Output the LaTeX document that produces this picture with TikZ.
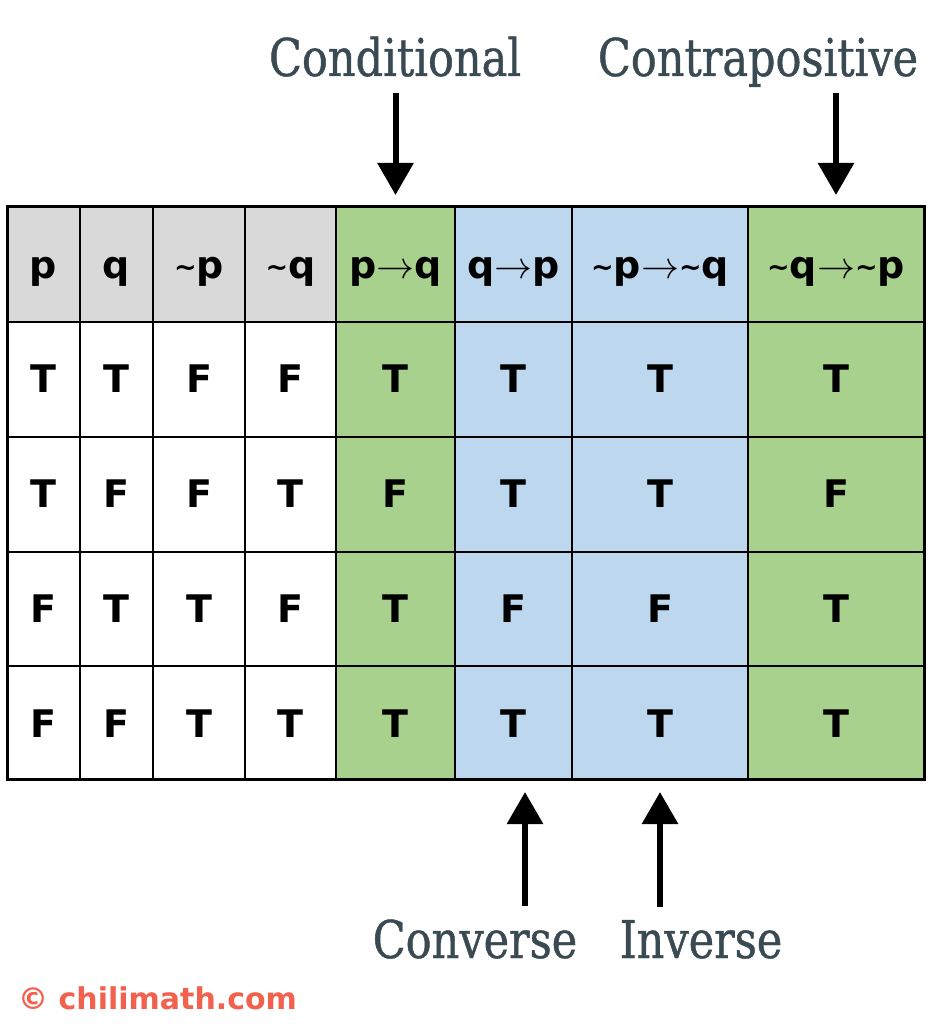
\RequirePackage{fix-cm}
\documentclass[tikz,border=0pt]{standalone}
\usepackage{fontspec}
\setmainfont{DejaVu Sans}
\newfontfamily\lblfont[FakeStretch=0.92,FakeBold=0.8]{DejaVu Serif Condensed}
\usetikzlibrary{arrows.meta}
\definecolor{hgray}{HTML}{D9D9D9}
\definecolor{cgreen}{HTML}{A9D18E}
\definecolor{cblue}{HTML}{BDD7EE}
\definecolor{lbl}{HTML}{3A4A52}
\definecolor{chili}{HTML}{F2604E}
\newcommand{\ar}{$\rightarrow$}
\newcommand{\nt}{\raisebox{2pt}{\fontsize{27}{27}\selectfont\textasciitilde}}
\begin{document}
\begin{tikzpicture}[x=1pt,y=-1pt,
    cell/.style={inner sep=0pt,font=\bfseries\fontsize{38}{38}\selectfont},
    lab/.style={inner sep=0pt,text=lbl,font=\lblfont\fontsize{52}{52}\selectfont},
    arr/.style={line width=6pt,-{Triangle[width=35pt,length=32pt]}}]
    \useasboundingbox[fill=white] (0,0) rectangle (927,1024);
    % colour bands
    \fill[hgray] (7,207) rectangle (336,322);
    \fill[cgreen] (336,207) rectangle (455,779);
    \fill[cgreen] (748,207) rectangle (924,779);
    \fill[cblue] (455,207) rectangle (748,779);
    % grid
    \foreach \x in {80,153,245,336,455,572,748} \draw[line width=2pt] (\x,207) -- (\x,779);
    \foreach \y in {322,437,552,666} \draw[line width=2pt] (7,\y) -- (924,\y);
    \draw[line width=3pt] (7,207) rectangle (924,779);
    \coordinate (top) at (0,207);
    \coordinate (bot) at (0,779);
    % header and values
    \foreach \t/\x [count=\c] in {p/43.5,q/116.5,\nt p/199,\nt q/290.5,p\ar q/395.5,q\ar p/513.5,\nt p\ar\nt q/660,\nt q\ar\nt p/836}
        \node[cell,anchor=base] (h\c) at (\x,278) {\t};
    \foreach \vals [count=\r] in {{T,T,F,F,T,T,T,T},{T,F,F,T,F,T,T,F},{F,T,T,F,T,F,F,T},{F,F,T,T,T,T,T,T}}
        \foreach \v [count=\c] in \vals
            \path (h\c.base) ++(0,114.8*\r) node[cell,anchor=base] (c\r\c) {\v};
    % labels
    \node[lab,anchor=base] (cond) at (395,76) {Conditional};
    \node[lab,anchor=base] (contra) at (758,76) {Contrapositive};
    \node[lab,anchor=base] (conv) at (475,958) {Converse};
    \node[lab,anchor=base] (inv) at (701,958) {Inverse};
    \coordinate (a6) at (525,779);
    \draw[arr,shorten <=17pt,shorten >=12pt] (cond.base -| h5) -- (top -| h5);
    \draw[arr,shorten <=17pt,shorten >=12pt] (contra.base -| h8) -- (top -| h8);
    \draw[arr,shorten <=13pt,shorten >=13pt] (conv.north -| a6) -- (a6);
    \draw[arr,shorten <=13pt,shorten >=13pt] (inv.north -| h7) -- (bot -| h7);
    \node[inner sep=0pt,anchor=base west,text=chili,font=\bfseries\fontsize{30}{30}\selectfont] (wm) at (18,1009) {© chilimath.com};
\end{tikzpicture}
\end{document}
